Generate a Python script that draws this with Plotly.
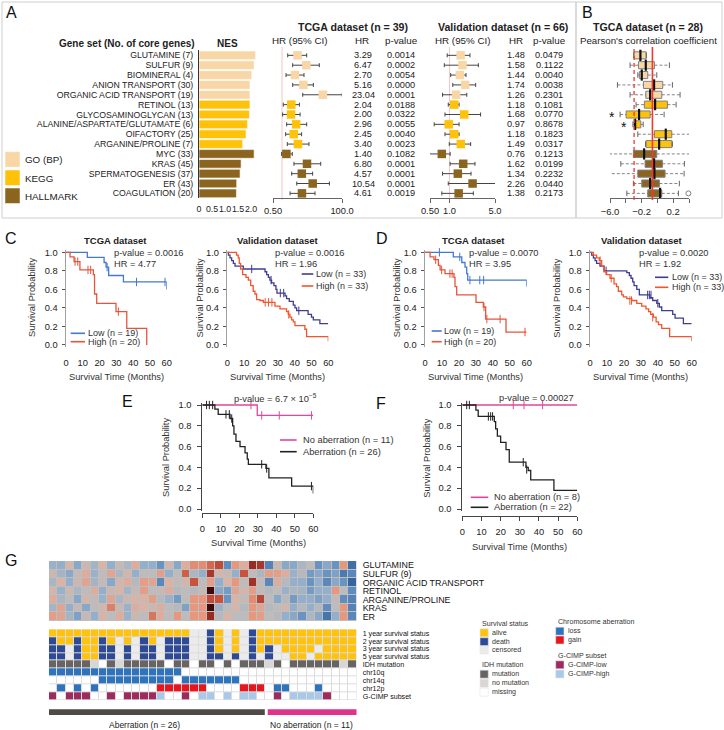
import math
import plotly.graph_objects as go

W, H = 724, 730
FONT = "Liberation Sans, Arial, Helvetica, sans-serif"


def X(p):
    return p / W


def Y(p):
    return 1 - p / H


# ======================= DATA =======================
# ---- Panel A ----
gene_sets = ["GLUTAMINE (7)", "SULFUR (9)", "BIOMINERAL (4)", "ANION TRANSPORT (30)",
             "ORGANIC ACID TRANSPORT (19)", "RETINOL (13)", "GLYCOSAMINOGLYCAN (13)",
             "ALANINE/ASPARTATE/GLUTAMATE (6)", "OIFACTORY (25)", "ARGANINE/PROLINE (7)",
             "MYC (33)", "KRAS (45)", "SPERMATOGENESIS (37)", "ER (43)", "COAGULATION (20)"]
gene_cat = ["GO (BP)"] * 5 + ["KEGG"] * 5 + ["HALLMARK"] * 5
cat_names = ["GO (BP)", "KEGG", "HALLMARK"]
cat_colors = {"GO (BP)": "#F9D6A5", "KEGG": "#FFC20A", "HALLMARK": "#8B6420"}
nes = [2.18, 2.12, 2.03, 1.96, 1.96, 1.96, 1.94, 1.87, 1.81, 1.68, 2.12, 1.62, 1.58, 1.45, 1.44]
nes_ticks = [0, 0.5, 1.0, 1.5, 2.0]

tcga_hr = [3.29, 6.47, 2.70, 5.16, 23.04, 2.04, 2.00, 2.96, 2.45, 3.40, 1.40, 6.80, 4.57, 10.54, 4.61]
tcga_lo = [1.55, 2.27, 1.36, 2.27, 4.9, 1.1, 1.05, 1.43, 1.32, 1.5, 0.97, 2.5, 2.1, 3.1, 1.85]
tcga_hi = [6.65, 17.5, 5.4, 11.1, 102, 3.8, 4.0, 6.65, 4.5, 7.9, 2.2, 19.5, 10.5, 38, 12.6]
tcga_p = ["0.0014", "0.0002", "0.0054", "0.0000", "0.0001", "0.0188", "0.0322", "0.0055",
          "0.0040", "0.0023", "0.1082", "0.0001", "0.0001", "0.0001", "0.0019"]

val_hr = [1.48, 1.58, 1.44, 1.74, 1.26, 1.18, 1.68, 0.97, 1.18, 1.49, 0.76, 1.62, 1.34, 2.26, 1.38]
val_lo = [0.92, 0.83, 1.04, 1.12, 0.78, 0.955, 0.85, 0.58, 0.85, 0.99, 0.49, 1.02, 0.78, 0.955, 0.76]
val_hi = [2.06, 2.77, 1.79, 2.52, 1.84, 1.40, 3.0, 1.40, 1.40, 2.11, 1.02, 2.46, 2.14, 5.17, 2.32]
val_p = ["0.0479", "0.1122", "0.0040", "0.0038", "0.2301", "0.1081", "0.0770", "0.8678",
         "0.1823", "0.0317", "0.1213", "0.0199", "0.2232", "0.0440", "0.2173"]

# ---- Panel B (box statistics) ----
box_lo = [-0.30, -0.346, -0.248, -0.506, -0.346, -0.27, -0.472, -0.31, -0.248, -0.15, -0.611, -0.463, -0.64, -0.304, -0.387]
box_q1 = [-0.295, -0.24, -0.228, -0.177, -0.147, -0.165, -0.396, -0.295, -0.038, -0.143, -0.304, -0.156, -0.248, -0.198, -0.122]
box_med = [-0.215, -0.147, -0.198, -0.042, -0.092, -0.029, -0.232, -0.282, 0.106, 0.022, -0.168, -0.042, -0.038, -0.092, 0.034]
box_q3 = [-0.143, -0.038, -0.122, 0.068, 0.056, 0.127, -0.092, -0.21, 0.182, 0.182, -0.008, 0.063, 0.097, 0.025, 0.056]
box_hi = [-0.14, 0.152, -0.008, 0.19, 0.287, 0.237, 0.085, -0.18, 0.486, 0.19, 0.423, 0.342, 0.338, 0.278, 0.266]
out_rows = [3, 14]
out_vals = [0.477, 0.392]
star_rows = [6, 7]
star_x = [-0.58, -0.42]
corr_mean = -0.063
corr_cut = -0.295
box_ticks = [-0.6, -0.2, 0.2]
box_ticktext = ["\u22126.0", "\u22120.2", "0.2"]
box_minor_ticks = [-0.4, 0.0, 0.4]

# ---- Panels C-F (Kaplan-Meier) ----
c1_low_t = [0, 12.7, 22.7, 23.9, 25.4, 34.2, 60]
c1_low_s = [1, 0.946, 0.89, 0.84, 0.75, 0.68, 0.60]
c1_low_ct = [24.5, 42, 59]
c1_low_cs = [0.84, 0.68, 0.68]
c1_high_t = [0, 2.4, 4.8, 8.3, 16.3, 17.0, 18.3, 29.8, 36.2, 48.1]
c1_high_s = [1, 0.95, 0.90, 0.81, 0.76, 0.55, 0.45, 0.36, 0.18, 0.0]
c1_high_ct = [5.4, 7.0, 13.1, 14.7, 31.2]
c1_high_cs = [0.90, 0.90, 0.81, 0.81, 0.36]

c2_low_t = [0, 0.6, 1.6, 2.6, 3.6, 4.6, 9.5, 22.4, 23.4, 24.4, 25.3, 26.3, 27.7, 28.9, 29.5, 34.3,
            35.2, 36.8, 39.2, 40.2, 41.2, 48, 50, 51.1, 55, 60]
c2_low_s = [1, .97, .94, .91, .88, .85, .82, .79, .76, .73, .70, .67, .64, .60, .56, .53, .50, .47,
            .43, .40, .37, .33, .30, .27, .23, .23]
c2_low_ct = [14.5, 26.0, 31.5, 33.5, 42.5]
c2_low_cs = [0.82, 0.70, 0.56, 0.56, 0.37]
c2_high_t = [0, 5.5, 6.5, 7.1, 7.9, 9.1, 11.1, 12.5, 13.9, 15.4, 16.4, 17.4, 19.4, 21.4, 28.3, 31.3,
             35.2, 36.2, 37.2, 38.2, 39.2, 40.2, 46.1, 47.1, 60]
c2_high_s = [1, .97, .94, .88, .82, .76, .73, .70, .64, .58, .55, .49, .48, .46, .42, .39, .36, .33,
             .30, .27, .25, .21, .17, .09, .04]
c2_high_ct = [22.5, 24.5, 26.5, 36.5]
c2_high_cs = [0.46, 0.46, 0.46, 0.33]

d1_low_t = [0, 16.7, 21.7, 23.6, 24.6, 25.2, 60]
d1_low_s = [1, .95, .89, .84, .77, .70, .63]
d1_low_ct = [8.5, 20.5, 26.5, 32.3, 34.6]
d1_low_cs = [1.0, 0.95, 0.70, 0.70, 0.70]
d1_high_t = [0, 3, 5.3, 7.9, 8.9, 11.8, 17.1, 17.7, 18.7, 30.1, 34.4, 35.8, 47.8, 60]
d1_high_s = [1, .95, .92, .86, .81, .77, .73, .63, .54, .46, .41, .28, .14, .14]
d1_high_ct = [6.3, 9.8, 14.7, 16.0, 34.8, 36.5, 44.3, 59]
d1_high_cs = [.92, .81, .77, .77, .41, .28, .28, .14]

d2_low_t = [0, 1, 2, 3, 3.9, 5.9, 8.3, 21.7, 23.2, 24.2, 25.2, 26, 27.6, 29.1, 35.4, 37, 39.4, 40.9,
            42.3, 48.8, 50.2, 55.1, 60]
d2_low_s = [1, .97, .94, .91, .88, .85, .80, .78, .75, .72, .68, .64, .60, .54, .51, .48, .45, .41,
            .37, .33, .29, .23, .23]
d2_low_ct = [9.5, 34.0, 35.0, 36.0, 40.0]
d2_low_cs = [.80, .54, .54, .54, .45]
d2_high_t = [0, 2, 3.9, 5.5, 6.9, 8.3, 9.8, 11.8, 14.2, 15.7, 16.7, 18.7, 19.7, 21.7, 24.6, 27.6,
             30.5, 33, 34.6, 35.8, 37.4, 39, 40.4, 42.3, 47.0, 60]
d2_high_s = [1, .97, .94, .91, .85, .79, .76, .72, .66, .63, .58, .54, .52, .50, .48, .45, .42, .39,
             .36, .33, .30, .25, .22, .18, .09, .04]
d2_high_ct = [6.0, 12.5, 23.5, 24.5, 37.0]
d2_high_cs = [.91, .72, .48, .48, .30]

e_no_t = [0, 29.7, 60]
e_no_s = [1, 0.90, 0.90]
e_no_ct = [26.3, 32.1, 41.6, 59]
e_no_cs = [1, 0.9, 0.9, 0.9]
e_ab_t = [0, 6.8, 8.6, 15, 16.4, 17.1, 18.2, 20.4, 23.1, 24.3, 24.9, 34.4, 36, 48.3, 60]
e_ab_s = [1, .96, .91, .87, .80, .72, .65, .60, .54, .48, .43, .39, .30, .22, .15]
e_ab_ct = [2.3, 3.8, 5.6, 12.8, 14.6, 15.9, 32.1, 34.8, 59]
e_ab_cs = [1, 1, 1, .91, .91, .87, .43, .39, .22]

f_no_t = [0, 60]
f_no_s = [1, 1]
f_no_ct = [26.6, 32.2, 41.9]
f_no_cs = [1, 1, 1]
f_ab_t = [0, 7.1, 8.3, 16.7, 17.4, 18.3, 20, 22.8, 24.5, 33.2, 34.4, 35.7, 47.8, 60]
f_ab_s = [1, .95, .89, .84, .77, .70, .64, .57, .45, .40, .37, .28, .18, .18]
f_ab_ct = [2.3, 3.7, 13.6, 14.8, 15.8, 31.8, 33.6]
f_ab_cs = [1, 1, .89, .89, .89, .45, .38]

km_xticks = [0, 10, 20, 30, 40, 50, 60]
km_yticks = [0.0, 0.2, 0.4, 0.6, 0.8, 1.0]

# ---- Panel G ----
heat_rows = ["GLUTAMINE", "SULFUR (9)", "ORGANIC ACID TRANSPORT", "RETINOL", "ARGANINE/PROLINE", "KRAS", "ER"]
heat_vals = [
    [-0.4, -0.5, 0.3, -0.6, 0.2, -0.3, 0.4, -0.5, 0.1, -0.2, 0.5, -0.5, -0.5, -0.9, 0.2, -0.6, 0.5, 0.9, 0.9,
     1.2, 1.5, -1.0, 0.8, 0.5, 2.0, 1.8, -1.2, 0.2, -0.6, -0.6, -0.2, 0.0, -0.9, -0.6, -0.9, 0.8, -1.6],
    [0.2, -0.3, -0.6, 0.1, 0.5, -0.4, 0.0, 0.6, -0.2, 0.3, -0.5, 0.0, 0.0, 0.7, -0.5, 0.0, 1.3, -0.2, -0.5,
     1.8, 0.3, 0.2, -0.5, 1.4, 0.0, -0.2, 0.7, 0.7, 0.5, -0.4, -0.1, -0.8, -0.6, -0.9, -0.7, -1.4, -1.1],
    [-0.2, 0.4, -0.5, 0.2, 0.6, -0.3, 0.1, -0.6, 0.3, 0.5, -0.1, 0.7, 0.6, -1.1, 0.4, 0.05, 0.3, 1.4, 0.0,
     0.7, -0.5, 0.4, 0.8, 0.0, 1.9, 0.1, -1.1, 0.5, -0.1, -0.5, -0.5, -0.9, -0.5, -1.1, -0.6, -0.9, -1.8],
    [0.3, -0.4, 0.2, -0.2, 0.0, 0.5, -0.5, 0.2, 0.4, -0.3, 0.1, 0.7, 0.0, 0.1, 0.5, -0.1, 0.0, -0.1, 0.1,
     3.0, -0.6, -0.8, 0.6, 0.3, 0.7, 0.0, -0.1, 0.0, -0.4, -0.2, -0.3, -0.8, -0.5, -0.5, 0.8, 0.0, -1.0],
    [0.5, -0.2, 0.0, -0.6, 0.3, 0.1, -0.4, 0.6, -0.2, 0.2, 0.4, 0.4, 0.7, -0.1, -0.4, -0.8, 0.0, 0.8, 0.8,
     1.5, 1.4, -0.9, 0.4, 0.1, 0.9, 1.6, 0.0, -0.6, -0.1, -0.8, -0.5, -0.5, -0.7, -0.5, 0.1, -1.0, -1.2],
    [-0.3, 0.6, -0.5, 0.1, -0.6, 0.0, 0.3, 1.0, 0.2, -0.4, 0.5, 0.4, 0.2, 0.5, 0.0, -0.1, -0.7, 0.8, 0.8,
     3.0, -0.4, 0.0, 0.4, -0.1, 0.8, 0.6, -0.1, 0.0, 0.3, -0.5, -0.1, -0.5, -0.1, -1.0, 0.0, 0.8, -1.2],
    [0.7, 0.6, -0.3, -0.7, 0.1, -0.5, 0.4, 0.0, 0.5, -0.4, 0.2, 0.0, 1.1, 0.5, 0.0, 0.8, 0.0, 0.8, 0.8,
     2.0, -0.1, 0.4, 0.0, 0.0, 0.8, 0.7, 0.0, -0.1, -0.5, -0.6, -0.9, -0.2, -0.6, -1.5, -0.5, 0.8, -1.1],
]
annot_rows = ["1 year survival status", "2 year survival status", "3 year survival status",
              "5 year survival status", "IDH mutation", "chr10q", "chr14q", "chr12p", "G-CIMP subset"]
# A alive, D death, C censored, M mutation, N no mutation, W missing/none,
# L loss, G gain, P G-CIMP-low, H G-CIMP-high
annot_codes = [
    "AAAAAAAAAAAAAAAAACCDACACDAAAAAAAAAAAA",
    "DAADAADACACDACDDDCCDACACDAAAAAAAAAAAA",
    "DDCDAADDCDCDDCDDDCCDACACDADCAAAACAAAA",
    "DDCDAADDCDCDDCDDDCCDDCDCDCDCCAACAAAAA",
    "MMMMMNWMNMMMMMWMMWMMWMWMMMNMWMMMMMMNM",
    "LLLLLLLLLLLLLLLLWWWWWWWWWWWWWWWWWWWWW",
    "WWWWWWLLLLLLLLLWLLLLLLLWWWWWWWWWWWWWW",
    "WLWLWLWWWWWWWGGGGGGWWWWGGGWLLWWWLWWWW",
    "PWPPPWWPWPPPPHWWPWHHWHWHHWWPWHHHHPWWW",
]
code_order = ["W", "A", "D", "C", "M", "N", "L", "G", "P", "H"]
code_colors = ["#FFFFFF", "#FFC20E", "#2F4A94", "#EBEBEB", "#686464", "#D9D6D6",
               "#2E73BD", "#E8141E", "#9E2B5E", "#A9C9EB"]
n_aberr = 26
n_noaberr = 11

legend_groups = [
    ("Survival status", ["alive", "death", "censored"], ["A", "D", "C"]),
    ("IDH mutation", ["mutation", "no mutation", "missing"], ["M", "N", "W"]),
    ("Chromosome aberration", ["loss", "gain"], ["L", "G"]),
    ("G-CIMP subset", ["G-CIMP-low", "G-CIMP-high"], ["P", "H"]),
]

# ======================= FIGURE =======================
fig = go.Figure()
layout = dict(template="none", width=W, height=H, margin=dict(l=0, r=0, t=0, b=0, pad=0),
              paper_bgcolor="white", plot_bgcolor="white", showlegend=False,
              font=dict(family=FONT, size=9, color="#222"))
ann = []
shp = []

base_ax = dict(showgrid=False, zeroline=False, fixedrange=True, ticks="", automargin=False,
               showticklabels=False, showline=False, tickangle=0)


def names(n):
    if n == 1:
        return "xaxis", "yaxis", "x", "y"
    return f"xaxis{n}", f"yaxis{n}", f"x{n}", f"y{n}"


def set_axes(n, xpx, ypx, xkw, ykw):
    xa, ya, xr, yr = names(n)
    d = dict(base_ax)
    d.update(domain=[X(xpx[0]), X(xpx[1])], anchor=yr)
    d.update(xkw)
    layout[xa] = d
    d = dict(base_ax)
    d.update(domain=[Y(ypx[1]), Y(ypx[0])], anchor=xr)
    d.update(ykw)
    layout[ya] = d
    return xr, yr


def span(v0, p0, v1, p1, r0, r1):
    s = (p1 - p0) / (v1 - v0)
    a = p0 + (r0 - v0) * s
    b = p0 + (r1 - v0) * s
    return (min(a, b), max(a, b))


def text(x, y, s, size=9, xanchor="center", color="#222", bold=False, angle=0,
         xref="paper", yref="paper"):
    ann.append(dict(x=x, y=y, xref=xref, yref=yref, text=f"<b>{s}</b>" if bold else s,
                    showarrow=False, xanchor=xanchor, yanchor="middle", textangle=angle,
                    borderpad=0, font=dict(size=size, color=color, family=FONT)))


rows = list(range(len(gene_sets)))
colors = [cat_colors[c] for c in gene_cat]
ROW_TOP, ROW_BOT = 50.4, 198.3
row_y = dict(range=[len(rows) - 0.5, -0.5])

# ---------- A: NES bars ----------
xr, yr = set_axes(1, (199, 262), (ROW_TOP, ROW_BOT),
                  dict(range=[0, 63 / 26], tickvals=nes_ticks,
                       ticktext=["0" if v == 0 else f"{v:.1f}" for v in nes_ticks],
                       showticklabels=True, tickfont=dict(size=8.8), ticklabelstandoff=4),
                  dict(row_y, tickvals=rows, ticktext=gene_sets, showticklabels=True,
                       tickfont=dict(size=8.7, color="#222"), showline=True, linecolor="#333",
                       linewidth=1, ticklabelstandoff=3))
fig.add_trace(go.Bar(x=nes, y=rows, orientation="h", width=0.88,
                     marker=dict(color=colors, line=dict(color="white", width=0.6)),
                     xaxis=xr, yaxis=yr, hoverinfo="skip"))

# ---------- A: forest plots ----------
forest_specs = [
    (2, (273, 342), [math.log10(0.5), 2], [0.5, 100], ["0.50", "100.0"], tcga_hr, tcga_lo, tcga_hi),
    (3, (430, 495), [math.log10(0.5), math.log10(5)], [0.5, 1, 5], ["0.50", "1.0", "5.0"], val_hr, val_lo, val_hi),
]
for n, xd, rng, tv, tt, hr, lo, hi in forest_specs:
    xr, yr = set_axes(n, xd, (ROW_TOP, ROW_BOT),
                      dict(type="log", range=rng, tickvals=tv, ticktext=tt, showticklabels=True,
                           showline=True, linecolor="#666", ticks="outside", ticklen=4,
                           tickcolor="#666", tickfont=dict(size=9.3)),
                      dict(row_y))
    shp.append(dict(type="line", xref=xr, yref="paper", x0=1, x1=1, y0=Y(200), y1=Y(47),
                    line=dict(color="#F2C6C6", width=1), layer="below"))
    fig.add_trace(go.Scatter(
        x=hr, y=rows, mode="markers", xaxis=xr, yaxis=yr, cliponaxis=False, hoverinfo="skip",
        marker=dict(symbol="square", size=8.5, color=colors, line=dict(width=0)),
        error_x=dict(type="data", symmetric=False, array=[h - c for h, c in zip(hi, hr)],
                     arrayminus=[c - l for c, l in zip(hr, lo)], color="#444", thickness=1, width=2)))

for i in rows:
    text(X(363), i, f"{tcga_hr[i]:.2f}", size=9.2, yref="y2")
    text(X(401), i, tcga_p[i], size=9.2, yref="y2")
    text(X(516), i, f"{val_hr[i]:.2f}", size=9.2, yref="y3")
    text(X(549), i, val_p[i], size=9.2, yref="y3")

# ---------- B: box plots ----------
xr, yr = set_axes(4, (610, 689), (ROW_TOP, ROW_BOT),
                  dict(range=[-0.6, 0.4], tickvals=box_ticks, ticktext=box_ticktext,
                       showticklabels=True, showline=True, linecolor="#666", ticks="outside",
                       ticklen=4, tickcolor="#666", tickfont=dict(size=9.5),
                       minor=dict(tickvals=box_minor_ticks, ticks="outside", ticklen=4,
                                  tickcolor="#666", showgrid=False)),
                  dict(row_y))
wx, wy = [], []
for i in rows:
    wx += [box_lo[i], box_q1[i], None, box_q3[i], box_hi[i], None]
    wy += [i, i, None, i, i, None]
fig.add_trace(go.Scatter(x=wx, y=wy, mode="lines", xaxis=xr, yaxis=yr, cliponaxis=False,
                         line=dict(color="#666", width=0.8, dash="3px,2px"), hoverinfo="skip"))
fig.add_trace(go.Scatter(x=box_lo + box_hi, y=rows + rows, mode="markers", xaxis=xr, yaxis=yr,
                         cliponaxis=False, hoverinfo="skip",
                         marker=dict(symbol="line-ns", size=4, line=dict(color="#666", width=1))))
fig.add_trace(go.Bar(x=[q3 - q1 for q1, q3 in zip(box_q1, box_q3)], base=box_q1, y=rows,
                     orientation="h", width=0.72, xaxis=xr, yaxis=yr, hoverinfo="skip",
                     marker=dict(color=colors, line=dict(color="#808080", width=1))))
fig.add_trace(go.Scatter(x=box_med, y=rows, mode="markers", xaxis=xr, yaxis=yr, cliponaxis=False,
                         hoverinfo="skip",
                         marker=dict(symbol="line-ns", size=8, line=dict(color="#111", width=2.2))))
fig.add_trace(go.Scatter(x=out_vals, y=out_rows, mode="markers", xaxis=xr, yaxis=yr, cliponaxis=False,
                         hoverinfo="skip",
                         marker=dict(symbol="circle-open", size=5, line=dict(color="#555", width=1))))
shp.append(dict(type="line", xref=xr, yref="paper", x0=corr_mean, x1=corr_mean, y0=Y(200), y1=Y(47),
                line=dict(color="#EE3B2E", width=1.6)))
shp.append(dict(type="line", xref=xr, yref="paper", x0=corr_cut, x1=corr_cut, y0=Y(200), y1=Y(47),
                line=dict(color="#EE3B2E", width=1.3, dash="4px,3px")))
for r, sx in zip(star_rows, star_x):
    text(sx, r + 0.25, "*", size=14, xref=xr, yref=yr, color="#111")

# ---------- A/B headers & legend ----------
shp.append(dict(type="rect", xref="paper", yref="paper", x0=X(2), x1=X(576), y0=Y(218), y1=Y(2),
                line=dict(color="#CFCFCF", width=1)))
shp.append(dict(type="rect", xref="paper", yref="paper", x0=X(576), x1=X(722), y0=Y(218), y1=Y(2),
                line=dict(color="#CFCFCF", width=1)))
text(X(11), Y(13), "A", size=16, color="#111")
text(X(587), Y(13), "B", size=16, color="#111")
text(X(196), Y(43), "Gene set (No. of core genes)", size=10, xanchor="right", bold=True)
text(X(227), Y(43), "NES", size=10, bold=True)
text(X(353), Y(26.7), "TCGA dataset (n = 39)", size=10.6, bold=True)
text(X(300), Y(40.7), "HR (95% CI)", size=9.8)
text(X(362), Y(40.7), "HR", size=9.8)
text(X(401), Y(40.7), "p-value", size=9.8)
text(X(503), Y(26.7), "Validation dataset (n = 66)", size=10.6, bold=True)
text(X(463), Y(40.7), "HR (95% CI)", size=9.8)
text(X(516), Y(40.7), "HR", size=9.8)
text(X(549), Y(40.7), "p-value", size=9.8)
text(X(648), Y(26.7), "TGCA dataset (n = 28)", size=10.6, bold=True)
text(X(648), Y(40.7), "Pearson's correlation coefficient", size=9.7)

leg_top = [151.7, 170, 188]
for k, cname in enumerate(cat_names):
    shp.append(dict(type="rect", xref="paper", yref="paper", x0=X(5), x1=X(20),
                    y0=Y(leg_top[k] + 15.5), y1=Y(leg_top[k]), fillcolor=cat_colors[cname],
                    line=dict(color="white", width=0.5)))
    text(X(24), Y(leg_top[k] + 8), cname, size=9.8, xanchor="left")


# ---------- C-F: Kaplan-Meier ----------
def km_axes(n, x0, x60, y1, y0, xline=None):
    xkw = dict(range=[0, 60], tickvals=km_xticks, showticklabels=True,
               tickfont=dict(size=9.3, color="#222"))
    ykw = dict(range=[-0.02, 1.02], tickvals=km_yticks, ticktext=[f"{v:.1f}" for v in km_yticks],
               showticklabels=True, tickfont=dict(size=9.3, color="#222"), ticks="outside",
               ticklen=3, tickcolor="#555")
    if xline is None:
        xkw.update(ticklabelstandoff=9)
        ykw.update(showline=True, linecolor="#A0A0A0", linewidth=1.5, ticklabelstandoff=2)
    else:
        xkw.update(anchor="free", position=Y(xline), showline=True, linecolor="#444",
                   ticks="outside", ticklen=4, tickcolor="#444", ticklabelstandoff=3)
        ykw.update(showline=True, linecolor="#444", linewidth=1, ticklen=4, tickcolor="#444",
                   ticklabelstandoff=4)
    xr, yr = set_axes(n, span(0, x0, 60, x60, 0, 60), span(0, y0, 1, y1, -0.02, 1.02), xkw, ykw)
    if xline is not None:
        layout[names(n)[0]]["anchor"] = "free"
    return xr, yr


def km_curve(xr, yr, t, s, ct, cs, color):
    fig.add_trace(go.Scatter(x=t, y=s, mode="lines", xaxis=xr, yaxis=yr, cliponaxis=False,
                             line=dict(shape="hv", color=color, width=1.3), hoverinfo="skip"))
    fig.add_trace(go.Scatter(x=ct, y=cs, mode="markers", xaxis=xr, yaxis=yr, cliponaxis=False,
                             hoverinfo="skip",
                             marker=dict(symbol="line-ns", size=6, line=dict(color=color, width=1))))


def leg_line(x0, x1, y, color):
    shp.append(dict(type="line", xref="paper", yref="paper", x0=X(x0), x1=X(x1), y0=Y(y), y1=Y(y),
                    line=dict(color=color, width=1.6)))


BLUE, RED, NAVY, ORANGE, PINK, BLACK = "#4479D0", "#E4553D", "#3F3C92", "#F2552C", "#E2469A", "#222222"

km_specs = [
    (5, 66, 166.7, "TCGA dataset", 115, 32, 116.7, "p-value = 0.0016", "HR = 4.77", 113,
     [(c1_low_t, c1_low_s, c1_low_ct, c1_low_cs, BLUE), (c1_high_t, c1_high_s, c1_high_ct, c1_high_cs, RED)],
     (70.7, 85, 87, [333.3, 341.7], ["Low (n = 19)", "High (n = 20)"])),
    (6, 227.3, 328.3, "Validation dataset", 278, 199.5, 277.5, "p-value = 0.0016", "HR = 1.96", 274,
     [(c2_low_t, c2_low_s, c2_low_ct, c2_low_cs, NAVY), (c2_high_t, c2_high_s, c2_high_ct, c2_high_cs, ORANGE)],
     (301.7, 313.3, 315, [274, 286], ["Low (n = 33)", "High (n = 33)"])),
    (7, 425, 526.7, "TCGA dataset", 473, 397.3, 475.8, "p-value = 0.0070", "HR = 3.95", 468.3,
     [(d1_low_t, d1_low_s, d1_low_ct, d1_low_cs, BLUE), (d1_high_t, d1_high_s, d1_high_ct, d1_high_cs, RED)],
     (431.7, 441.7, 443.3, [331, 341.7], ["Low (n = 19)", "High (n = 20)"])),
    (8, 590, 691.7, "Validation dataset", 641.7, 556.7, 640.8, "p-value = 0.0020", "HR = 1.92", 638.3,
     [(d2_low_t, d2_low_s, d2_low_ct, d2_low_cs, NAVY), (d2_high_t, d2_high_s, d2_high_ct, d2_high_cs, ORANGE)],
     (655, 668.3, 670.7, [277.3, 287.3], ["Low (n = 33)", "High (n = 33)"])),
]
for n, x0, x60, title, tx, ylx, xlx, ptxt, hrtxt, px_, curves, leg in km_specs:
    xr, yr = km_axes(n, x0, x60, 252.3, 345)
    for t, s, ct, cs, col in curves:
        km_curve(xr, yr, t, s, ct, cs, col)
    text(X(tx), Y(240), title, size=9.5, bold=True)
    text(X(ylx), Y(298), "Survival Probability", size=9.3, angle=-90, color="#333")
    text(X(xlx), Y(377.3), "Survival Time (Months)", size=9.3, color="#333")
    text(X(px_), Y(253), ptxt, size=9.3, xanchor="left", color="#333")
    text(X(px_), Y(264.3), hrtxt, size=9.3, xanchor="left", color="#333")
    lx0, lx1, ltx, lys, labels = leg
    for (t, s, ct, cs, col), ly, lab in zip(curves, lys, labels):
        leg_line(lx0, lx1, ly, col)
        text(X(ltx), Y(ly), lab, size=9, xanchor="left", color="#333")

ef_specs = [
    (9, 202.3, 313.3, 513, 166, 258.3, 543.3, "p-value = 6.7 \u00d7 10<sup>\u22125</sup>", 233.3, 398.3,
     [(e_no_t, e_no_s, e_no_ct, e_no_cs, PINK), (e_ab_t, e_ab_s, e_ab_ct, e_ab_cs, BLACK)],
     (280, 296.7, 301.7, [440, 451.7], ["No aberration (n = 11)", "Aberration (n = 26)"])),
    (10, 462.3, 577.3, 516, 426.7, 519.8, 546.7, "p-value = 0.00027", 498.3, 397.7,
     [(f_no_t, f_no_s, f_no_ct, f_no_cs, PINK), (f_ab_t, f_ab_s, f_ab_ct, f_ab_cs, BLACK)],
     (470.7, 488.3, 492.7, [497.3, 507.3], ["No aberration (n = 8)", "Aberration (n = 22)"])),
]
for n, x0, x60, xline, ylx, xlx, xty, ptxt, px_, py_, curves, leg in ef_specs:
    xr, yr = km_axes(n, x0, x60, 405, 509, xline=xline)
    for t, s, ct, cs, col in curves:
        km_curve(xr, yr, t, s, ct, cs, col)
    text(X(ylx), Y(458), "Survival Probability", size=9.3, angle=-90, color="#333")
    text(X(xlx), Y(xty), "Survival Time (Months)", size=9.3, color="#333")
    text(X(px_), Y(py_), ptxt, size=9.3, xanchor="left", color="#333")
    lx0, lx1, ltx, lys, labels = leg
    for (t, s, ct, cs, col), ly, lab in zip(curves, lys, labels):
        leg_line(lx0, lx1, ly, col)
        text(X(ltx), Y(ly), lab, size=9.3, xanchor="left", color="#333")

text(X(11), Y(238), "C", size=16, color="#111")
text(X(381.7), Y(238), "D", size=16, color="#111")
text(X(127.5), Y(401.7), "E", size=16, color="#111")
text(X(381), Y(403), "F", size=16, color="#111")
text(X(11), Y(560), "G", size=16, color="#111")

# ---------- G: heatmap + annotation grid ----------
ncol = len(heat_vals[0])
cols = list(range(ncol))
xr, yr = set_axes(11, (49, 356.7), (561, 621),
                  dict(range=[-0.5, ncol - 0.5]),
                  dict(range=[len(heat_rows) - 0.5, -0.5], side="right", tickvals=list(range(len(heat_rows))),
                       ticktext=heat_rows, showticklabels=True, tickfont=dict(size=8.9, color="#111"),
                       ticklabelstandoff=5))
shp.append(dict(type="rect", xref=xr, yref=yr, x0=-0.5, x1=ncol - 0.5, y0=-0.5, y1=len(heat_rows) - 0.5,
                fillcolor="#BEBEBE", line=dict(width=0), layer="below"))
heat_scale = [[0.0, "#2B5D96"], [0.2, "#5F8DBF"], [0.3, "#93AFCC"], [0.4, "#BDBBBB"],
              [0.48, "#D9B3A6"], [0.56, "#E8977D"], [0.68, "#C8523D"], [0.8, "#9A2A22"], [1.0, "#3E0A0A"]]
fig.add_trace(go.Heatmap(z=heat_vals, x=cols, y=list(range(len(heat_rows))), colorscale=heat_scale,
                         zmin=-2, zmax=3, showscale=False, xgap=1, ygap=1, xaxis=xr, yaxis=yr,
                         hoverinfo="skip"))

xr, yr = set_axes(12, (49, 356.7), (629.3, 700),
                  dict(range=[-0.5, ncol - 0.5]),
                  dict(range=[len(annot_rows) - 0.5, -0.5], side="right", tickvals=list(range(len(annot_rows))),
                       ticktext=annot_rows, showticklabels=True, tickfont=dict(size=7.1, color="#111"),
                       ticklabelstandoff=5))
shp.append(dict(type="rect", xref=xr, yref=yr, x0=-0.5, x1=ncol - 0.5, y0=-0.5, y1=len(annot_rows) - 0.5,
                fillcolor="#DCDCDC", line=dict(width=0), layer="below"))
ncode = len(code_order)
disc = []
for k, c in enumerate(code_colors):
    disc += [[k / ncode, c], [(k + 1) / ncode, c]]
zcode = [[code_order.index(ch) for ch in row] for row in annot_codes]
fig.add_trace(go.Heatmap(z=zcode, x=cols, y=list(range(len(annot_rows))), colorscale=disc,
                         zmin=-0.5, zmax=ncode - 0.5, showscale=False, xgap=1, ygap=1,
                         xaxis=xr, yaxis=yr, hoverinfo="skip"))
# group bars
shp.append(dict(type="rect", xref=xr, yref="paper", x0=-0.5, x1=n_aberr - 0.5 - 0.05,
                y0=Y(715), y1=Y(709.3), fillcolor="#4D4A48", line=dict(width=0)))
shp.append(dict(type="rect", xref=xr, yref="paper", x0=n_aberr - 0.5 + 0.3, x1=n_aberr + n_noaberr - 0.5,
                y0=Y(715), y1=Y(709.3), fillcolor="#E0338A", line=dict(width=0)))
text(X(144), Y(725), f"Aberration (n = {n_aberr})", size=8.5, color="#222")
text(X(311.3), Y(725), f"No aberration (n = {n_noaberr})", size=8.5, color="#222")

# G legends
leg_pos = [(480, 624, [632.8, 641.7, 650]), (480, 665, [674.2, 683.2, 692.2]),
           (555.7, 621.7, [631.2, 640]), (555.7, 655.7, [664.8, 674])]
for (title, labels, codes), (lx, ty, ys) in zip(legend_groups, leg_pos):
    text(X(lx + 1), Y(ty), title, size=7.1, xanchor="left", color="#333")
    for lab, cd, yy in zip(labels, codes, ys):
        shp.append(dict(type="rect", xref="paper", yref="paper", x0=X(lx), x1=X(lx + 8.3),
                        y0=Y(yy + 4), y1=Y(yy - 4), fillcolor=code_colors[code_order.index(cd)],
                        line=dict(color="#E6E6E6", width=0.6)))
        text(X(lx + 11), Y(yy), lab, size=7.1, xanchor="left", color="#333")

layout["annotations"] = ann
layout["shapes"] = shp
fig.update_layout(**layout)
fig.write_html("out.html", config={"displayModeBar": False, "staticPlot": True},
               post_script="document.body.style.margin='0px';document.body.style.overflow='hidden';")
